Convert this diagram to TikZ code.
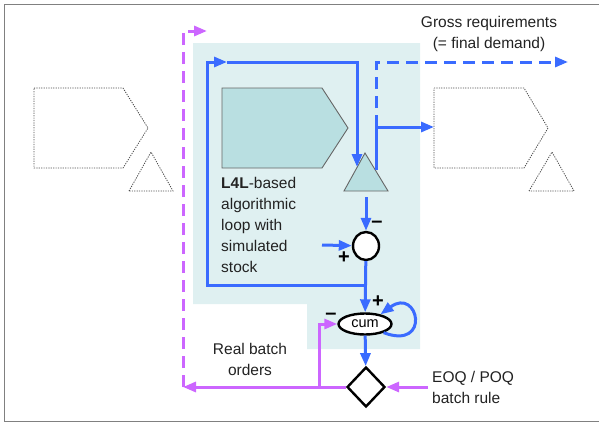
\documentclass[tikz,border=0pt]{standalone}
\usepackage{fontspec}
\setmainfont{Liberation Sans}
\usetikzlibrary{arrows.meta,shapes.geometric}

\definecolor{flowblue}{HTML}{3A6BFF}
\definecolor{batchpink}{HTML}{CC66FF}
\definecolor{loopbg}{HTML}{DFF0F1}
\definecolor{stockfill}{HTML}{B9DFE1}
\definecolor{labelgray}{HTML}{222222}

\tikzset{
  tip/.style={-{Triangle[length=13pt,width=10pt]}},
  blueflow/.style={line width=3pt, color=flowblue},
  pinkflow/.style={line width=3pt, color=batchpink},
  dashflow/.style={dash pattern=on 12pt off 7pt},
  ghost/.style={line width=0.8pt, color=black!70, dash pattern=on 1.2pt off 1.2pt},
  stock/.style={line width=0.9pt, draw=black!60, fill=stockfill},
  opnode/.style={line width=2.4pt, draw=black, fill=white, inner sep=0pt},
  sign/.style={font=\fontsize{20}{20}\selectfont\bfseries, inner sep=0pt},
  caption/.style={font=\fontsize{15.5}{21}\selectfont, text=labelgray, inner sep=0pt}
}

\begin{document}
\begin{tikzpicture}[x=1pt, y=-1pt]
			%%%%% START %%%%%
			\useasboundingbox (0, 0) rectangle (599, 423);
			\draw[line width=1.2pt, color=black!50] (4.5, 4.5) rectangle (610, 421.5);
			
			\fill[loopbg] (193, 43) -- (420, 43) -- (420, 349) -- (307, 349) -- (307, 304) -- (193, 304) -- cycle;
			
			% upstream and downstream stages
			\draw[ghost] (34, 88) -- (123, 88) -- (148, 128) -- (123, 168) -- (34, 168) -- cycle;
			\draw[ghost] (129, 191) -- (151, 152) -- (173, 191) -- cycle;
			\draw[ghost] (434, 88) -- (524, 88) -- (548, 128) -- (524, 168) -- (434, 168) -- cycle;
			\draw[ghost] (529, 191) -- (552, 152) -- (574, 191) -- cycle;
			\coordinate (next) at (434, 127);
			
			% simulated stage
			\draw[stock] (222, 88) -- (322, 88) -- (348, 128) -- (322, 168) -- (222, 168) -- cycle;
			\draw[stock] (344, 191) -- (365, 153) -- (388, 191) -- cycle;
			\coordinate (tin) at (357, 167);
			\coordinate (tout) at (376, 170);
			\coordinate (tbot) at (366, 197);
			
			\node[opnode, ellipse, minimum width=26pt, minimum height=28pt] (sum) at (366, 246) {};
			\node[opnode, ellipse, minimum width=53pt, minimum height=21pt,
			      font=\fontsize{14.5}{14.5}\selectfont] (cum) at (365, 324) {cum};
			\node[opnode, diamond, minimum width=38pt, minimum height=40pt] (rule) at (366, 387) {};
			
			\coordinate (gross) at (568, 62);
			\coordinate (split) at (376, 127);
			\coordinate (feed) at (322, 245);
			\coordinate (join) at (366, 285);
			\coordinate (loopl) at (207, 62);
			\coordinate (loopm) at (227, 62);
			\coordinate (eoq) at (428, 387);
			\coordinate (back) at (183, 387);
			\coordinate (tap) at (319, 387);
			\coordinate (real) at (207, 31);
			
			% blue flows
			\draw[blueflow, tip] (tout) -- (split) -- (next);
			\draw[blueflow, tip, dashflow] (split) -- (376, 62) -- (gross);
			\draw[blueflow, tip] (join) -| (loopl) -- (loopm);
			\draw[blueflow, tip] (loopm) -| (tin);
			\draw[blueflow, tip] (tbot) -- (sum);
			\draw[blueflow, tip] (feed) -- (sum);
			\draw[blueflow, tip] (sum) -- (cum);
			\draw[blueflow, tip] (cum.-25) .. controls +(48, 18) and +(38, -28) .. (cum.32);
			\draw[blueflow, tip] (cum) -- (rule);
			
			% batch orders
			\draw[pinkflow, tip] (eoq) -- (rule);
			\draw[pinkflow, tip] (rule) -- (back);
			\draw[pinkflow, tip, dashflow] (back) -- (183, 31) -- (real);
			\draw[pinkflow, tip] (tap) |- (cum);
			
			\node[sign] (m1) at (377, 224) {–};
			\node[sign] (p1) at (344, 258) {+};
			\node[sign] (p2) at (378, 302) {+};
			\node[sign] (m2) at (331, 316) {–};
			
			\node[caption, align=center] (grosslbl) at (489, 34) {Gross requirements\\(= final demand)};
			\node[caption, align=left, anchor=north west] (looplbl) at (221, 177)
			  {\textbf{L4L}-based\\algorithmic\\loop with\\simulated\\stock};
			\node[caption, align=center] (reallbl) at (250, 359) {Real batch\\orders};
			\node[caption, align=left, anchor=west] (eoqlbl) at (432, 387) {EOQ / POQ\\batch rule};
			%%%%% END %%%%%
\end{tikzpicture}
\end{document}
